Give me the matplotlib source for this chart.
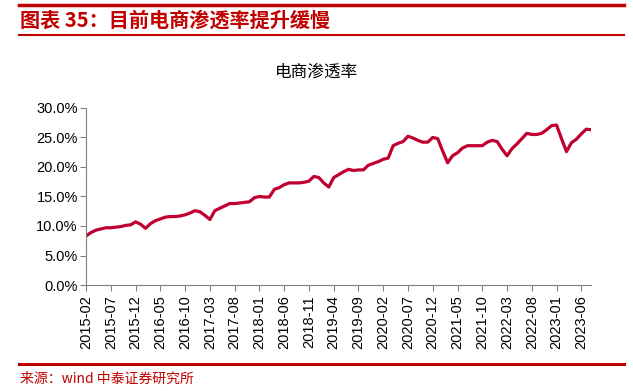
import matplotlib.pyplot as plt
import pandas as pd

# monthly e-commerce penetration (%), 2015-02 .. 2023-08
months = pd.date_range('2015-02-01', periods=103, freq='MS').strftime('%Y-%m').tolist()
penetration = [
    8.3, 8.9, 9.3, 9.5, 9.7, 9.7, 9.8, 9.9, 10.1, 10.2,
    10.7, 10.3, 9.6, 10.4, 10.9, 11.2, 11.5, 11.6, 11.6, 11.7,
    11.9, 12.2, 12.6, 12.4, 11.8, 11.1, 12.6, 13.0, 13.4, 13.8,
    13.8, 13.9, 14.0, 14.1, 14.8, 15.0, 14.9, 14.9, 16.2, 16.5,
    17.0, 17.3, 17.3, 17.3, 17.4, 17.6, 18.4, 18.2, 17.3, 16.6,
    18.2, 18.7, 19.2, 19.6, 19.4, 19.5, 19.5, 20.3, 20.6, 20.9,
    21.3, 21.5, 23.6, 24.0, 24.3, 25.2, 24.9, 24.5, 24.2, 24.2,
    25.0, 24.8, 22.7, 20.7, 21.9, 22.4, 23.2, 23.6, 23.6, 23.6,
    23.6, 24.2, 24.5, 24.3, 23.0, 21.9, 23.1, 23.9, 24.8, 25.7,
    25.5, 25.5, 25.7, 26.3, 27.0, 27.1, 24.8, 22.6, 24.1, 24.7,
    25.6, 26.4, 26.3,
]

header = '图表 35：目前电商渗透率提升缓慢'
chart_title = '电商渗透率'
source = '来源：wind 中泰证券研究所'

red = '#C00000'
cjk = ['Noto Sans CJK SC', 'DejaVu Sans']

fig = plt.figure(figsize=(6.33, 3.91), dpi=100)

# header / footer decoration
fig.add_artist(plt.Line2D([0.03, 0.985], [0.988, 0.988], color=red, lw=2.5))
fig.add_artist(plt.Line2D([0.03, 0.985], [0.91, 0.91], color=red, lw=1.5))
fig.text(0.032, 0.948, header, color=red, fontsize=14.5, fontweight='semibold',
         style='italic', family=cjk, va='center', ha='left')
fig.add_artist(plt.Line2D([0.03, 0.985], [0.07, 0.07], color=red, lw=2.2))
fig.text(0.032, 0.03, source, color=red, fontsize=10, family=cjk,
         va='center', ha='left')

ax = fig.add_axes([0.136, 0.271, 0.798, 0.453])
x = list(range(len(months)))
ax.plot(x, penetration, color='#C0002F', lw=2.3, solid_joinstyle='round')

ax.set_xlim(0, len(months) - 1)
ax.set_ylim(0, 30)
ax.set_yticks([0, 5, 10, 15, 20, 25, 30])
ax.set_yticklabels([f'{v:.1f}%' for v in [0, 5, 10, 15, 20, 25, 30]],
                   family='Liberation Sans', fontsize=10.5)
ticks = x[::5]
ax.set_xticks(ticks)
ax.set_xticklabels([months[i] for i in ticks], rotation=90,
                   family='Liberation Sans', fontsize=10.5)

for side in ['top', 'right']:
    ax.spines[side].set_visible(False)
for side in ['left', 'bottom']:
    ax.spines[side].set_color('#808080')
ax.tick_params(axis='both', color='#808080', length=4, direction='out')
ax.tick_params(axis='y', pad=2)

fig.text(0.5, 0.815, chart_title, fontsize=12, family=cjk, ha='center', va='center')

fig.savefig('out.png', dpi=100)
